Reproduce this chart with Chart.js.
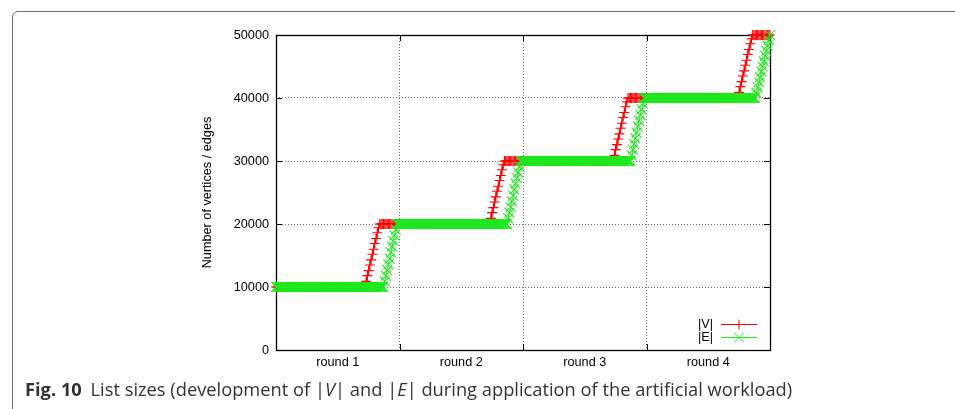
<!DOCTYPE html>
<html>
<head>
<meta charset="utf-8">
<script src="https://cdn.jsdelivr.net/npm/chart.js@4/dist/chart.umd.min.js"></script>
<style>
  html, body { margin: 0; padding: 0; background: #fff; }
  #wrap { position: relative; width: 955px; height: 409px; overflow: hidden; }
  #frame { position: absolute; left: 12px; top: 11px; width: 980px; height: 430px;
           border: 1px solid #6e6e6e; border-radius: 6px; box-sizing: border-box; }
  #chart { position: absolute; left: 0; top: 0; }
  #caption { position: absolute; left: 25px; top: 378px; white-space: nowrap;
             font-family: "Open Sans", "Noto Sans", sans-serif; font-size: 18.3px;
             line-height: 22px; color: #333; }
  #caption b { font-weight: 700; margin-right: 4px; }
</style>
</head>
<body>
<div id="wrap">
  <div id="frame"></div>
  <canvas id="chart" width="955" height="409"></canvas>
  <div id="caption"><b>Fig. 10</b> List sizes (development of |<i>V</i>| and |<i>E</i>| during application of the artificial workload)</div>
</div>
<script>
// Rounds of the workload and the list size reached at each round boundary
const rounds = ['round 1', 'round 2', 'round 3', 'round 4'];
const stepsPerRound = 100;
const levels = [10000, 20000, 30000, 40000, 50000];
const yTicks = [0, 10000, 20000, 30000, 40000, 50000];

// |V|: step (within the round) where growth starts, and the sizes while growing
const vertexRiseStart = [73, 74, 74, 75];
const vertexRise1 = [10900, 11800, 12600, 13500, 14300, 15200, 16000, 16900, 17700, 18600, 19400];
const vertexRise2 = [20900, 21800, 22600, 23500, 24300, 25200, 26000, 26900, 27700, 28600, 29400];
const vertexRise3 = [30900, 31800, 32600, 33500, 34300, 35200, 36000, 36900, 37700, 38600, 39400];
const vertexRise4 = [40900, 41800, 42600, 43500, 44300, 45200, 46000, 46900, 47700, 48600, 49400];

// |E|: same layout, growth lags behind |V|
const edgeRiseStart = [88, 88, 88, 89];
const edgeRise1 = [10900, 11800, 12700, 13600, 14500, 15500, 16400, 17300, 18200, 19100];
const edgeRise2 = [20900, 21800, 22700, 23600, 24500, 25500, 26400, 27300, 28200, 29100];
const edgeRise3 = [30900, 31800, 32700, 33600, 34500, 35500, 36400, 37300, 38200, 39100];
const edgeRise4 = [40800, 41700, 42500, 43300, 44200, 45000, 45800, 46700, 47500, 48300, 49200];

function buildSeries(riseStarts, rises) {
  const pts = [];
  for (let r = 0; r < rounds.length; r++) {
    const start = riseStarts[r], rise = rises[r];
    for (let k = 0; k < stepsPerRound; k++) {
      let y;
      if (k < start) y = levels[r];
      else if (k < start + rise.length) y = rise[k - start];
      else y = levels[r + 1];
      pts.push({ x: r * stepsPerRound + k, y: y });
    }
  }
  pts.push({ x: rounds.length * stepsPerRound, y: levels[rounds.length] });
  return pts;
}

const vertexData = buildSeries(vertexRiseStart, [vertexRise1, vertexRise2, vertexRise3, vertexRise4]);
const edgeData = buildSeries(edgeRiseStart, [edgeRise1, edgeRise2, edgeRise3, edgeRise4]);

const RED = '#ff0000';
const GREEN = '#1ee81e';
const FONT = { family: '"Liberation Sans", Arial, Helvetica, sans-serif', size: 12.7 };

// Plot box, inward tick marks and the key in the lower right corner
const gnuplotFrame = {
  id: 'gnuplotFrame',
  beforeDatasetsDraw(chart) {
    const { ctx, chartArea: a, scales } = chart;
    ctx.save();
    ctx.strokeStyle = '#000';
    ctx.lineWidth = 1;
    ctx.beginPath();
    const tl = 6;
    yTicks.forEach(v => {
      const y = Math.round(scales.y.getPixelForValue(v)) + 0.5;
      ctx.moveTo(a.left, y); ctx.lineTo(a.left + tl, y);
      ctx.moveTo(a.right, y); ctx.lineTo(a.right - tl, y);
    });
    for (let r = 0; r <= rounds.length; r++) {
      const x = Math.round(scales.xv.getPixelForValue(r * stepsPerRound)) + 0.5;
      ctx.moveTo(x, a.bottom); ctx.lineTo(x, a.bottom - tl);
      ctx.moveTo(x, a.top); ctx.lineTo(x, a.top + tl);
    }
    ctx.stroke();
    ctx.lineWidth = 1.3;
    ctx.strokeRect(Math.round(a.left) + 0.5, Math.round(a.top) + 0.5,
                   Math.round(a.right - a.left), Math.round(a.bottom - a.top));
    ctx.restore();
  },
  afterDatasetsDraw(chart) {
    const { ctx, chartArea: a } = chart;
    ctx.save();
    ctx.font = FONT.size + 'px ' + FONT.family;
    ctx.textAlign = 'right';
    ctx.textBaseline = 'middle';
    chart.data.datasets.slice().sort((p, q) => p.keyRow - q.keyRow).forEach((ds, i) => {
      const y = a.bottom - 26 + i * 13;
      ctx.fillStyle = '#000';
      ctx.fillText(ds.label, a.right - 57, y);
      ctx.strokeStyle = ds.borderColor;
      ctx.lineWidth = 1;
      ctx.beginPath();
      ctx.moveTo(a.right - 49, y + 0.5); ctx.lineTo(a.right - 13, y + 0.5);
      ctx.stroke();
      Chart.helpers.drawPoint(ctx, {
        pointStyle: ds.pointStyle, radius: ds.pointRadius, rotation: 0,
        borderWidth: ds.pointBorderWidth
      }, a.right - 31, y + 0.5);
    });
    ctx.restore();
  }
};

new Chart(document.getElementById('chart'), {
  type: 'line',
  data: {
    labels: rounds,
    datasets: [
      {
        label: '|E|', keyRow: 1, data: edgeData, xAxisID: 'xv', yAxisID: 'y',
        borderColor: GREEN, backgroundColor: GREEN, borderWidth: 1,
        pointStyle: 'crossRot', pointRadius: 7, pointBorderWidth: 1.1,
        pointBorderColor: GREEN, clip: false, order: 0
      },
      {
        label: '|V|', keyRow: 0, data: vertexData, xAxisID: 'xv', yAxisID: 'y',
        borderColor: RED, backgroundColor: RED, borderWidth: 1.2,
        pointStyle: 'cross', pointRadius: 5, pointBorderWidth: 1.1,
        pointBorderColor: RED, clip: false, order: 1
      }
    ]
  },
  options: {
    responsive: false,
    animation: false,
    devicePixelRatio: 1,
    layout: { padding: { left: 195, top: 35, right: 185, bottom: 34 } },
    plugins: { legend: { display: false }, tooltip: { enabled: false } },
    scales: {
      x: {
        type: 'category', position: 'bottom', offset: true,
        grid: { offset: true, drawTicks: false, color: '#707070', lineWidth: 1 },
        border: { display: false, dash: [1, 2] },
        ticks: { font: FONT, color: '#000', padding: 5, maxRotation: 0 },
        afterFit(s) { s.height = 25; }
      },
      xv: {
        type: 'linear', display: false, min: 0, max: rounds.length * stepsPerRound
      },
      y: {
        type: 'linear', min: 0, max: 50000,
        afterBuildTicks(s) { s.ticks = yTicks.map(v => ({ value: v })); },
        grid: { drawTicks: false, color: '#707070', lineWidth: 1 },
        border: { display: false, dash: [1, 2] },
        ticks: { font: FONT, color: '#000', padding: 7, callback: v => String(v) },
        title: { display: true, text: 'Number of vertices / edges', font: FONT, color: '#000',
                 padding: { top: 5, bottom: 0 } },
        afterFit(s) { s.width = 81; }
      }
    }
  },
  plugins: [gnuplotFrame]
});
</script>
</body>
</html>
